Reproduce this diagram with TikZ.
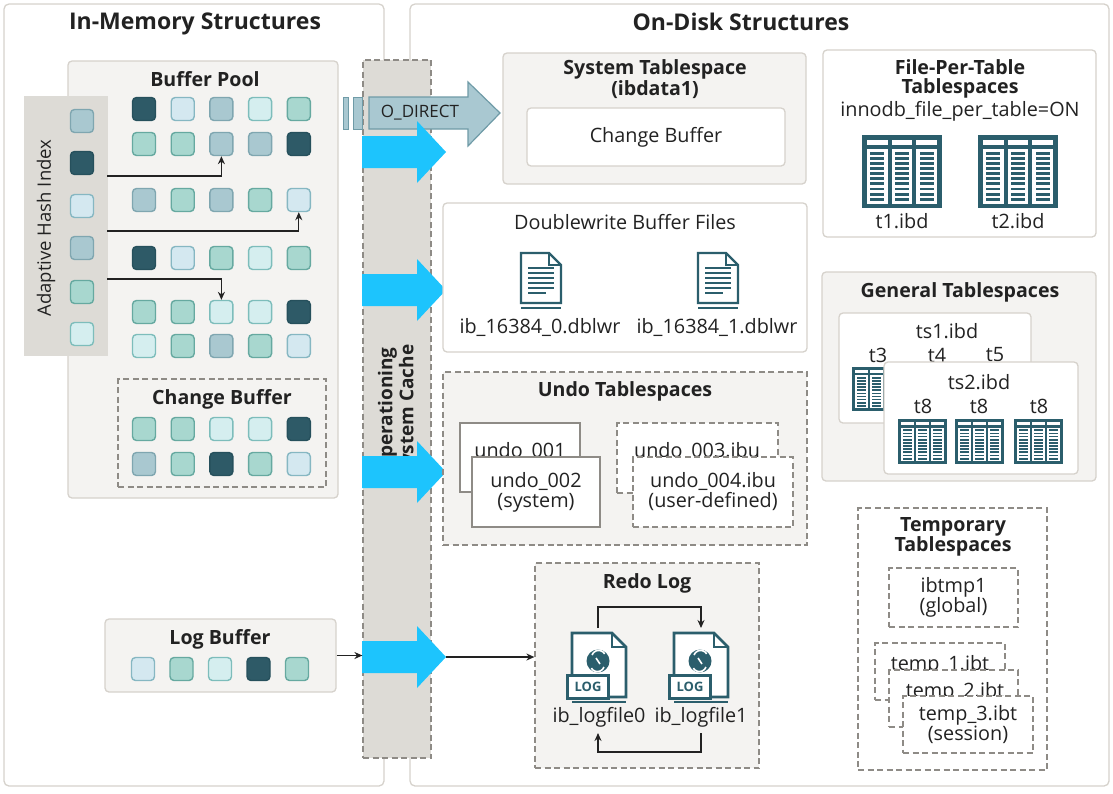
\documentclass[tikz,border=0pt]{standalone}
\usepackage{fontspec}
\setmainfont{Open Sans}
\usetikzlibrary{positioning,calc,arrows.meta}

\definecolor{panelfill}{HTML}{F4F3F1}
\definecolor{panelline}{HTML}{D6D2CC}
\definecolor{dashline}{HTML}{8E8B86}
\definecolor{osfill}{HTML}{DDDBD6}
\definecolor{txt}{HTML}{222222}
\definecolor{iconteal}{HTML}{2B5E6C}
\definecolor{flow}{HTML}{1DC4FD}
\definecolor{direct}{HTML}{A9C8D1}
\definecolor{directline}{HTML}{6F9BA7}
% cell colours: D dark, G grey-blue, B light blue, T teal, P pale teal
\definecolor{fD}{HTML}{2E5A67}\definecolor{lD}{HTML}{26505C}
\definecolor{fG}{HTML}{A9C8D0}\definecolor{lG}{HTML}{7FA6B0}
\definecolor{fB}{HTML}{D4E8F0}\definecolor{lB}{HTML}{86B7C2}
\definecolor{fT}{HTML}{A8D7CF}\definecolor{lT}{HTML}{66A9A0}
\definecolor{fP}{HTML}{D5EEEF}\definecolor{lP}{HTML}{7DBDBB}

\newcommand{\lblfont}{\fontsize{19.8}{20}\selectfont}
\newcommand{\hdfont}{\fontsize{19.6}{19}\selectfont\bfseries}
\newcommand{\topfont}{\fontsize{23}{24}\selectfont\bfseries}

% table icon: left, top, width, height
\newcommand{\tabicon}[4]{%
  \fill[iconteal] (#1,#2) rectangle ++(#3,#4);
  \foreach \c in {0,1,2}{
    \fill[white] ({#1+(0.06+0.31*\c)*#3},{#2+0.07*#4}) rectangle ++({0.26*#3},{0.07*#4});
    \fill[white] ({#1+(0.06+0.31*\c)*#3},{#2+0.19*#4}) rectangle ++({0.26*#3},{0.75*#4});
    \foreach \r in {0,...,9}
      \fill[iconteal] ({#1+(0.1+0.31*\c)*#3},{#2+(0.23+0.07*\r)*#4}) rectangle ++({0.18*#3},{0.04*#4});
  }}
% document icon: centre x, top y
\newcommand{\docicon}[2]{%
  \draw[iconteal,line width=2.4pt,fill=white] (#1-20,#2) -- (#1+8,#2) -- (#1+20,#2+12) -- (#1+20,#2+50) -- (#1-20,#2+50) -- cycle;
  \draw[iconteal,line width=2pt] (#1+8,#2) -- (#1+8,#2+12) -- (#1+20,#2+12);
  \draw[iconteal,line width=1.6pt] (#1-20,#2+55) -- (#1+20,#2+55);
  \foreach \k in {0,...,4} \draw[iconteal,line width=2pt] (#1-13,#2+15+5*\k) -- (#1+13,#2+15+5*\k);
  \draw[iconteal,line width=2pt] (#1-13,#2+40) -- (#1+5,#2+40);}
% log icon: left x, top y, name
\newcommand{\logicon}[3]{%
  \draw[iconteal,line width=2.8pt,fill=white] (#1,#2) -- (#1+40,#2) -- (#1+54,#2+14) -- (#1+54,#2+64) -- (#1,#2+64) -- cycle;
  \draw[iconteal,line width=2pt] (#1+40,#2) -- (#1+40,#2+14) -- (#1+54,#2+14);
  \draw[iconteal,line width=1.6pt] (#1,#2+69) -- (#1+54,#2+69);
  \fill[iconteal] (#1+26,#2+28) circle (11.5);
  \draw[white,line width=1.6pt] (#1+20,#2+22) arc[start angle=200,end angle=330,radius=7];
  \draw[white,line width=1.6pt] (#1+32,#2+34) arc[start angle=20,end angle=150,radius=7];
  \draw[white,line width=1.6pt] (#1+24,#2+25) -- (#1+28,#2+31);
  \node[draw=iconteal,line width=2.4pt,fill=white,minimum width=41,minimum height=23,inner sep=0pt,
        font=\bfseries\fontsize{13}{13}\selectfont,text=iconteal] (#3) at (#1+16,#2+54) {LOG};}

\begin{document}
\begin{tikzpicture}[x=1pt,y=-1pt,
  frame/.style={draw=panelline,fill=white,rounded corners=5pt,line width=1.3pt,inner sep=0pt},
  panel/.style={draw=panelline,fill=panelfill,rounded corners=4pt,line width=1.3pt,inner sep=0pt},
  dashbox/.style={draw=dashline,dash pattern=on 6pt off 3.5pt,line width=1.2pt,inner sep=0pt},
  filebox/.style={draw=dashline,fill=white,line width=1.2pt,inner sep=0pt,align=center,font=\lblfont,text=txt},
  cell/.style={fill=f#1,draw=l#1,minimum size=23pt,rounded corners=4pt,line width=1.4pt,inner sep=0pt},
  lbl/.style={font=\lblfont,text=txt,align=center,inner sep=0pt},
  hd/.style={font=\hdfont,text=txt,align=center,inner sep=0pt},
  hasharrow/.style={draw=txt,line width=1.3pt,-{Stealth[length=8pt,width=7pt]}}]
\useasboundingbox (0,0) rectangle (1113,793);

% outer frames
\node[frame,minimum width=380,minimum height=782] (mem) at (194,395) {};
\node[frame,minimum width=699,minimum height=782] (disk) at (759.5,395) {};
\node[font=\topfont,text=txt] (memt) at (195,24) {In-Memory Structures};
\node[font=\topfont,text=txt] (diskt) at (741,22) {On-Disk Structures};

% in-memory side
\node[panel,minimum width=270,minimum height=437] (bufpool) at (203,279.5) {};
\node[hd] (bufpoolt) at (205,79) {Buffer Pool};
\foreach \y/\cols [count=\r] in {109/{D,B,G,P,T},144/{T,T,G,G,D},200/{G,T,G,T,B},258/{D,B,T,P,T},312/{T,T,P,P,D},346/{P,T,G,T,B}}
  \foreach \c [count=\k] in \cols
    \node[cell=\c] (bp-\r-\k) at ({105.3+38.7*\k},\y) {};

\node[panel,fill=osfill,draw=osfill,rounded corners=0pt,minimum width=82,minimum height=258] (ahi) at (66,226) {};
\node[lbl,font=\fontsize{18.5}{19}\selectfont,rotate=90] (ahit) at (46,228) {Adaptive Hash Index};
\foreach \y/\c [count=\r] in {121/G,163/D,206/B,248/G,292/T,334/P}
  \node[cell=\c] (ah-\r) at (82,\y) {};
\coordinate (h1) at (107,176);
\coordinate (h2) at (107,231);
\coordinate (h3) at (107,279);
\draw[hasharrow] (h1) -| (bp-2-3.south);
\draw[hasharrow] (h2) -| (bp-3-5.south);
\draw[hasharrow] (h3) -| (bp-5-3.north);

\node[dashbox,fill=panelfill,minimum width=208,minimum height=108] (chgbuf) at (222,433) {};
\node[hd] (chgbuft) at (222,399) {Change Buffer};
\foreach \y/\cols [count=\r] in {429/{T,T,P,P,D},464/{G,T,D,T,B}}
  \foreach \c [count=\k] in \cols
    \node[cell=\c] (cb-\r-\k) at ({105.3+38.7*\k},\y) {};

\node[panel,minimum width=231,minimum height=73] (logbuf) at (220.5,655.5) {};
\node[hd] (logbuft) at (220,639) {Log Buffer};
\foreach \c [count=\k] in {B,T,P,D,T}
  \node[cell=\c] (lb-\k) at ({104.5+38.5*\k},669) {};

% operating system cache
\node[dashbox,fill=osfill,minimum width=68,minimum height=698] (osc) at (397,409) {};
\node[font=\bfseries\fontsize{19}{21}\selectfont,text=txt,align=center,rotate=90] (osct) at (398,410) {Operationing\\System Cache};

% O_DIRECT
\fill[direct] (343,97) rectangle (348,129);
\fill[direct] (353,97) rectangle (362,129);
\draw[directline,line width=1pt] (343,97) rectangle (348,129) (353,97) rectangle (362,129);
\draw[directline,fill=direct,line width=1.2pt] (369,97) -- (468,97) -- (468,82) -- (500,113) -- (468,146) -- (468,129) -- (369,129) -- cycle;
\node[lbl,font=\fontsize{17}{17}\selectfont] (odir) at (420,113) {O\_DIRECT};

% flush arrows
\foreach \y in {152,290,472,657}
  \fill[flow] (362,\y-16) -- (417,\y-16) -- (417,\y-31) -- (446,\y) -- (417,\y+31) -- (417,\y+16) -- (362,\y+16) -- cycle;

% system tablespace
\node[panel,minimum width=303,minimum height=131] (systs) at (654.5,118.5) {};
\node[hd] (systst) at (655,79) {System Tablespace\\(ibdata1)};
\node[panel,fill=white,minimum width=258,minimum height=58,lbl] (syschg) at (656,137) {Change Buffer};

% doublewrite
\node[frame,rounded corners=4pt,minimum width=364,minimum height=149] (dblwr) at (625,277.5) {};
\node[lbl] (dblwrt) at (625,222) {Doublewrite Buffer Files};
\docicon{541}{253}
\docicon{718}{253}
\node[lbl] (dw0) at (540,327) {ib\_16384\_0.dblwr};
\node[lbl] (dw1) at (717,327) {ib\_16384\_1.dblwr};

% undo
\node[dashbox,fill=panelfill,minimum width=364,minimum height=173] (undo) at (625,458.5) {};
\node[hd] (undot) at (625,391) {Undo Tablespaces};
\node[filebox,minimum width=120,minimum height=69] (u1) at (520,457.5) {};
\node[lbl] (u1t) at (520,451) {undo\_001};
\node[filebox,minimum width=128,minimum height=70] (u2) at (536,492) {undo\_002\\(system)};
\node[filebox,dashbox,fill=white,minimum width=161,minimum height=70] (u3) at (697.5,458) {};
\node[lbl] (u3t) at (697,451) {undo\_003.ibu};
\node[filebox,dashbox,fill=white,minimum width=160,minimum height=70] (u4) at (713,492) {undo\_004.ibu\\(user-defined)};

% redo log
\node[dashbox,fill=panelfill,minimum width=224,minimum height=205] (redo) at (647,665.5) {};
\node[hd] (redot) at (647,583) {Redo Log};
\logicon{572}{633}{lg0}
\logicon{674}{633}{lg1}
\node[lbl] (lg0t) at (599,717) {ib\_logfile0};
\node[lbl] (lg1t) at (701,717) {ib\_logfile1};
\coordinate (lg0top) at (598,628);
\coordinate (lg1top) at (701,628);
\coordinate (lg0bot) at (598,733);
\coordinate (lg1bot) at (701,733);
\draw[hasharrow] (lg0top) -- ++(0,-21) -| (lg1top);
\draw[hasharrow] (lg1bot) -- ++(0,19) -| (lg0bot);
\draw[hasharrow] (logbuf.east) -- (logbuf.east -| osc.west);
\coordinate (flowtip) at (446,657);
\draw[hasharrow] (flowtip) -- (flowtip -| redo.west);

% file-per-table
\node[frame,rounded corners=4pt,minimum width=273,minimum height=187] (fpt) at (959.5,143.5) {};
\node[hd] (fptt) at (960,79) {File-Per-Table\\Tablespaces};
\node[lbl] (fptopt) at (960,111) {innodb\_file\_per\_table=ON};
\tabicon{862}{135}{80}{73}
\tabicon{978}{135}{80}{73}
\node[lbl] (t1) at (902,221) {t1.ibd};
\node[lbl] (t2) at (1018,221) {t2.ibd};

% general tablespaces
\node[panel,minimum width=274,minimum height=209] (gen) at (959,376.5) {};
\node[hd] (gent) at (960,292) {General Tablespaces};
\node[frame,rounded corners=4pt,minimum width=192,minimum height=110] (ts1) at (935,368) {};
\node[lbl] (ts1t) at (947,331) {ts1.ibd};
\foreach \x/\t in {878/t3,937/t4,995/t5}
  \node[lbl] (ts1-\t) at (\x,355) {\t};
\tabicon{852}{367}{49}{44}
\tabicon{912}{367}{49}{44}
\node[frame,rounded corners=4pt,minimum width=194,minimum height=112] (ts2) at (981,418) {};
\node[lbl] (ts2t) at (979,382) {ts2.ibd};
\foreach \x [count=\i] in {923,979,1039}
  \node[lbl] (ts2-\i) at (\x,406) {t8};
\foreach \x in {898,955,1014}{
  \tabicon{\x}{419}{49}{45}}

% temporary tablespaces
\node[dashbox,fill=white,minimum width=189,minimum height=262] (temp) at (952.5,639) {};
\node[hd] (tempt) at (953,537) {Temporary\\Tablespaces};
\node[filebox,dashbox,minimum width=129,minimum height=59] (ibtmp) at (953.5,597.5) {ibtmp1\\(global)};
\node[filebox,dashbox,minimum width=130,minimum height=57] (tmp1) at (940,671.5) {};
\node[lbl] (tmp1t) at (940,665) {temp\_1.ibt};
\node[filebox,dashbox,minimum width=129,minimum height=57] (tmp2) at (953.5,698.5) {};
\node[lbl] (tmp2t) at (955,692) {temp\_2.ibt};
\node[filebox,dashbox,minimum width=130,minimum height=57] (tmp3) at (968,724.5) {temp\_3.ibt\\(session)};
\end{tikzpicture}
\end{document}
